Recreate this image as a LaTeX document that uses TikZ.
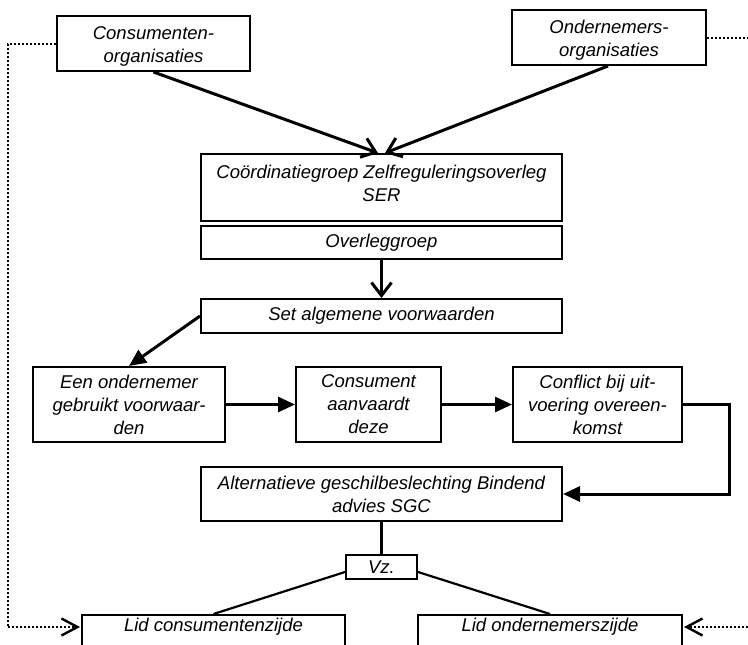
\documentclass[tikz,border=0pt]{standalone}
\usepackage{fontspec}
\setmainfont{Liberation Sans}
\usetikzlibrary{arrows.meta,calc}
\begin{document}
\begin{tikzpicture}[x=1pt,y=-1pt,
  txt/.style={inner sep=0pt, align=center, font=\fontsize{18.5}{23}\selectfont\itshape},
  box/.style={txt, draw, line width=2pt},
  flow/.style={line width=3pt, -{Triangle[length=17pt,width=15pt]}},
  feed/.style={line width=3pt, -{Straight Barb[length=13pt,width=20pt,line width=3pt]}},
  link/.style={line width=2.2pt},
  dots/.style={line width=2pt, dash pattern=on 2pt off 2pt},
  dotarrow/.style={dots, -{Straight Barb[length=16pt,width=17pt,line width=2.4pt]}}
]
\useasboundingbox (0,0) rectangle (748,645);

% organisations at the top
\node[box, minimum width=193, minimum height=55] (cons) at (153.5,43.5) {};
\node[txt] (constxt) at (153.5,46) {Consumenten-\\organisaties};
\node[box, minimum width=194, minimum height=55] (ond) at (609,37.5) {};
\node[txt] (ondtxt) at (609,40) {Ondernemers-\\organisaties};

% coordinating bodies
\node[box, minimum width=361, minimum height=67] (coord) at (381.5,187.5) {};
\node[txt] (coordtxt) at (381.5,183) {Coördinatiegroep Zelfreguleringsoverleg\\SER};
\node[box, minimum width=361, minimum height=33] (over) at (381.5,242.5) {Overleggroep};
\node[box, minimum width=361, minimum height=34] (set) at (381.5,316) {Set algemene voorwaarden};

% middle row
\node[box, minimum width=192, minimum height=75] (een) at (129,404.5) {Een ondernemer\\gebruikt voorwaar-\\den};
\node[box, minimum width=145, minimum height=75] (aanv) at (368.5,404.5) {Consument\\aanvaardt\\deze};
\node[box, minimum width=169, minimum height=75] (confl) at (597.5,404.5) {Conflict bij uit-\\voering overeen-\\komst};

% dispute resolution
\node[box, minimum width=361, minimum height=54] (alt) at (381.5,494) {Alternatieve geschilbeslechting Bindend\\advies SGC};
\node[box, minimum width=71, minimum height=24] (vz) at (381.5,567) {Vz.};

% members of the committee
\node[box, minimum width=263, minimum height=50, anchor=north] (lidc) at (213.5,614) {};
\node[txt] (lidctxt) at (213.5,627) {Lid consumentenzijde};
\node[box, minimum width=264, minimum height=50, anchor=north] (lido) at (550,614) {};
\node[txt] (lidotxt) at (550,627) {Lid ondernemerszijde};

% connectors
\draw[feed] (cons.south) -- ($(coord.north)+(-3.5,0)$);
\draw[feed] ($(ond.south)+(-1,0)$) -- ($(coord.north)+(3.5,0)$);
\draw[feed] (over.south) -- (set.north);
\draw[flow] (set.west) -- (een.north);
\draw[flow] (een.east) -- (aanv.west);
\draw[flow] (aanv.east) -- (confl.west);
\coordinate (turn1) at (729,404.5);
\coordinate (turn2) at (729,494);
\draw[flow] (confl.east) -- (turn1) -- (turn2) -- (alt.east);
\draw[link] (alt.south) -- (vz.north);
\draw[link] ($(vz.west)+(0,5)$) -- (lidc.north);
\draw[link] ($(vz.east)+(0,5)$) -- (lido.north);

% dotted feedback lines along the margins
\coordinate (lt) at (8,43.5);
\coordinate (lb) at (8,627);
\coordinate (lend) at (80,627);
\draw[dots] (cons.west) -- (lt) -- (lb) -- (lend);
\draw[dotarrow] (lb) -- (lend);
\coordinate (rt) at (760,37.5);
\draw[dots] (ond.east) -- (rt);
\coordinate (rb) at (760,627);
\coordinate (rend) at (684,627);
\draw[dotarrow] (rb) -- (rend);
\end{tikzpicture}
\end{document}
